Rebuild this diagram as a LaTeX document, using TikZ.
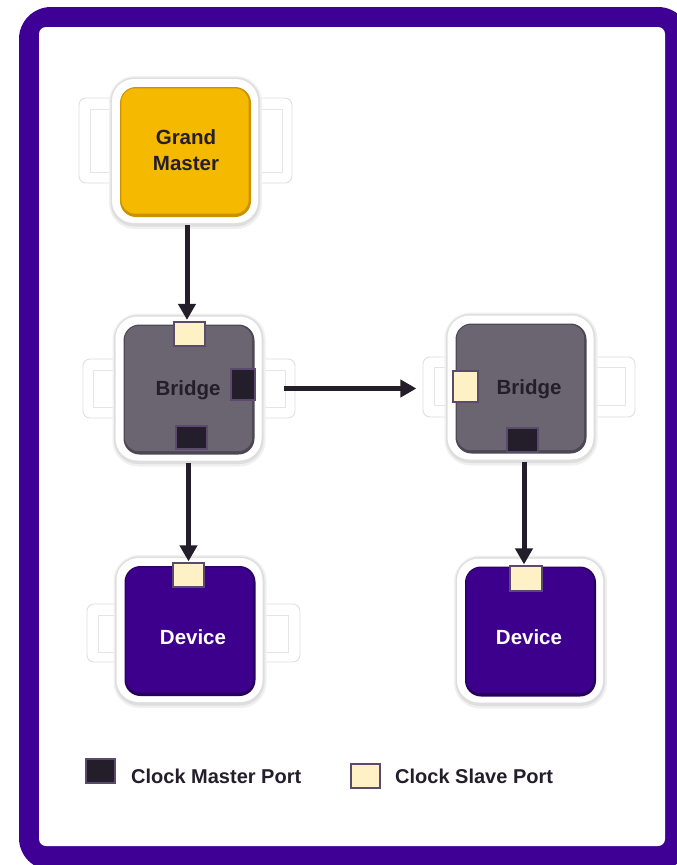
\documentclass[tikz,border=0pt]{standalone}
\usepackage{fontspec}
\setmainfont{Liberation Sans}
\usetikzlibrary{arrows.meta}

\definecolor{framepurple}{HTML}{3F0096}
\definecolor{devpurple}{HTML}{3D008C}
\definecolor{devdark}{HTML}{28005E}
\definecolor{gmyellow}{HTML}{F5B900}
\definecolor{gmdark}{HTML}{C99300}
\definecolor{bridgegray}{HTML}{6B6571}
\definecolor{bridgedark}{HTML}{4C4752}
\definecolor{ink}{HTML}{231E2A}
\definecolor{portedge}{HTML}{5A4B6E}
\definecolor{slavefill}{HTML}{FFF1C6}
\definecolor{tabedge}{HTML}{DFDFDF}

\newcommand{\boxfont}{\bfseries\fontsize{20.5}{26}\selectfont}

% side tab: outer x1 y1 x2 y2, inner x1 y1 x2 y2
\newcommand{\sidetab}[8]{%
  \draw[tabedge, fill=white, rounded corners=7pt, line width=0.9pt] (#1,#2) rectangle (#3,#4);
  \draw[tabedge!80, line width=0.9pt] (#5,#6) rectangle (#7,#8);
}

% clock unit: name, centre x, centre y, face colour, edge colour
\newcommand{\clockunit}[5]{%
  \fill[black!6, rounded corners=26pt] (#2-76,#3-75) rectangle (#2+77,#3+78);
  \fill[black!13, rounded corners=24pt] (#2-74.5,#3-73.5) rectangle (#2+75,#3+75.5);
  \node[outerbox] (#1o) at (#2,#3) {};
  \node[innerbox, fill=#5] (#1) at (#2+0.5,#3+1) {};
  \fill[#4, rounded corners=14pt]
    ([xshift=1.5pt,yshift=-1.5pt]#1.north west) rectangle ([xshift=-2.5pt,yshift=3.5pt]#1.south east);
}

\begin{document}
\begin{tikzpicture}[x=1pt,y=-1pt,
  outerbox/.style={rectangle, rounded corners=22pt, fill=white, minimum width=146pt,
    minimum height=144pt, inner sep=0pt},
  innerbox/.style={rectangle, rounded corners=16pt, minimum width=131pt,
    minimum height=130pt, inner sep=0pt},
  label/.style={font=\boxfont, align=center, inner sep=0pt},
  masterport/.style={rectangle, draw=portedge, fill=ink, line width=1.2pt, inner sep=0pt},
  slaveport/.style={rectangle, draw=portedge, fill=slavefill, line width=1.2pt, inner sep=0pt},
  arr/.style={ink, line width=5pt, -{Triangle[width=17pt,length=16pt]}, shorten <=2pt},
  legendtext/.style={font=\bfseries\fontsize{20}{24}\selectfont, text=ink, anchor=base west, inner sep=0pt}]

% canvas and frame
\fill[white] (0,0) rectangle (677,865);
\useasboundingbox (0,0) rectangle (677,865);
\fill[framepurple, rounded corners=32pt] (19,7) rectangle (690,870);
\fill[white, rounded corners=7pt] (39,27) rectangle (665,846);

% side tabs behind the units
\sidetab{79}{98}{125}{183}{90}{109}{112}{172}
\sidetab{245}{98}{292}{183}{258}{109}{282}{172}
\sidetab{83}{359}{130}{418}{93}{370}{115}{407}
\sidetab{250}{359}{295}{418}{262}{370}{285}{407}
\sidetab{423}{357}{460}{417}{434}{367}{455}{405}
\sidetab{585}{357}{635}{417}{593}{367}{625}{405}
\sidetab{87}{604}{130}{662}{98}{615}{117}{652}
\sidetab{250}{604}{300}{662}{262}{615}{288}{652}

% units
\clockunit{gm}{185}{151}{gmyellow}{gmdark}
\clockunit{bra}{188.5}{388.5}{bridgegray}{bridgedark}
\clockunit{brb}{520.5}{387.5}{bridgegray}{bridgedark}
\clockunit{deva}{189.5}{630}{devpurple}{devdark}
\clockunit{devb}{530}{630.5}{devpurple}{devdark}

% labels
\node[label, text=ink] (gmt) at (186,150) {Grand\\Master};
\node[label, text=ink] (brat) at (188,390) {Bridge};
\node[label, text=ink] (brbt) at (529,389) {Bridge};
\node[label, text=white] (devat) at (193,637) {Device};
\node[label, text=white] (devbt) at (529,637) {Device};

% ports
\node[slaveport, minimum width=31pt, minimum height=24pt] (bras) at (189.5,334) {};
\node[masterport, minimum width=24pt, minimum height=31pt] (bram) at (243,384.5) {};
\node[masterport, minimum width=31pt, minimum height=23pt] (brad) at (191.5,437.5) {};
\node[slaveport, minimum width=25pt, minimum height=31pt] (brbs) at (465.5,386.5) {};
\node[masterport, minimum width=31pt, minimum height=24pt] (brbd) at (522.5,440) {};
\node[slaveport, minimum width=31pt, minimum height=24pt] (devas) at (188.5,575) {};
\node[slaveport, minimum width=32pt, minimum height=25pt] (devbs) at (526,578.5) {};

% timing links
\draw[arr] ([xshift=-2.5pt]bras.north |- gmo.south) -- ([xshift=-2.5pt,yshift=1.5pt]bras.north);
\draw[arr] (devas.north |- brao.south) -- ([yshift=1pt]devas.north);
\draw[arr] ([xshift=20pt]brao.east) -- ([xshift=-36pt]brbs.west |- brao.east);
\draw[arr] ([xshift=-2pt]devbs.north |- brbo.south) -- ([xshift=-2pt,yshift=1pt]devbs.north);

% legend
\node[masterport, minimum width=29pt, minimum height=24pt] (keym) at (100.5,771) {};
\node[legendtext] (keymt) at (131,783) {Clock Master Port};
\node[slaveport, minimum width=29pt, minimum height=24pt] (keys) at (365.5,776) {};
\node[legendtext] (keyst) at (395,783) {Clock Slave Port};
\end{tikzpicture}
\end{document}
